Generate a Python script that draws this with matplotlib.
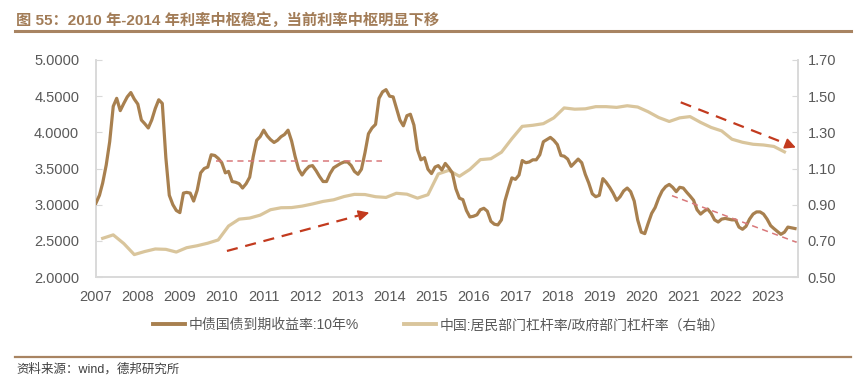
import numpy as np
import pandas as pd
import matplotlib
matplotlib.use("Agg")
import matplotlib.pyplot as plt
import matplotlib.dates as mdates
from matplotlib.lines import Line2D

plt.rcParams['font.family'] = ['Liberation Sans', 'Noto Sans CJK SC', 'DejaVu Sans']

# 中债国债到期收益率:10年 (月度, 2007-01 ~ 2023-09)
yield_10y = [
    3.02, 3.13, 3.30, 3.55, 3.87, 4.36, 4.47, 4.30, 4.40, 4.49, 4.55, 4.46,
    4.39, 4.17, 4.12, 4.06, 4.17, 4.33, 4.45, 4.40, 3.65, 3.13, 3.00, 2.92,
    2.89, 3.16, 3.17, 3.16, 3.05, 3.20, 3.44, 3.50, 3.52, 3.69, 3.68, 3.64,
    3.58, 3.44, 3.46, 3.32, 3.31, 3.29, 3.23, 3.29, 3.38, 3.66, 3.89, 3.94,
    4.03, 3.95, 3.90, 3.86, 3.89, 3.94, 3.97, 4.03, 3.88, 3.67, 3.49, 3.41,
    3.48, 3.53, 3.54, 3.47, 3.39, 3.32, 3.32, 3.43, 3.51, 3.54, 3.57, 3.59,
    3.59, 3.54, 3.46, 3.42, 3.49, 3.72, 3.98, 4.06, 4.11, 4.47, 4.56, 4.59,
    4.50, 4.49, 4.34, 4.17, 4.09, 4.23, 4.25, 4.10, 3.76, 3.62, 3.65, 3.49,
    3.43, 3.52, 3.54, 3.48, 3.57, 3.51, 3.44, 3.22, 3.09, 3.07, 2.92, 2.83,
    2.84, 2.86, 2.93, 2.95, 2.91, 2.77, 2.73, 2.72, 2.79, 3.05, 3.22, 3.37,
    3.35, 3.41, 3.61, 3.58, 3.59, 3.62, 3.62, 3.69, 3.87, 3.90, 3.93, 3.89,
    3.83, 3.68, 3.67, 3.63, 3.53, 3.58, 3.63, 3.58, 3.42, 3.30, 3.15, 3.11,
    3.13, 3.36, 3.31, 3.24, 3.16, 3.06, 3.11, 3.19, 3.23, 3.18, 3.05, 2.79,
    2.62, 2.60, 2.74, 2.88, 2.96, 3.09, 3.19, 3.25, 3.28, 3.24, 3.18, 3.24,
    3.23, 3.17, 3.12, 3.06, 2.93, 2.87, 2.91, 2.94, 2.88, 2.79, 2.76, 2.80,
    2.81, 2.80, 2.79, 2.79, 2.69, 2.66, 2.70, 2.80, 2.87, 2.90, 2.90, 2.87,
    2.80, 2.71, 2.67, 2.63, 2.59, 2.62, 2.69, 2.68, 2.67,
]

# 居民部门杠杆率/政府部门杠杆率 (季度, 2007Q1 ~ 2023Q2)
leverage = [
    0.714, 0.733, 0.685, 0.624, 0.641, 0.655, 0.653, 0.638, 0.662, 0.673, 0.687, 0.705,
    0.782, 0.820, 0.826, 0.842, 0.872, 0.883, 0.884, 0.892, 0.904, 0.918, 0.927, 0.945,
    0.957, 0.956, 0.944, 0.940, 0.963, 0.958, 0.936, 0.955, 1.070, 1.090, 1.057, 1.095,
    1.149, 1.154, 1.190, 1.265, 1.333, 1.339, 1.348, 1.380, 1.435, 1.428, 1.430, 1.442,
    1.442, 1.438, 1.447, 1.440, 1.414, 1.382, 1.360, 1.380, 1.387, 1.355, 1.327, 1.308,
    1.262, 1.245, 1.234, 1.230, 1.222, 1.192,
]

years = list(range(2007, 2024))
left_ticks = [2.0, 2.5, 3.0, 3.5, 4.0, 4.5, 5.0]
right_ticks = [0.5, 0.7, 0.9, 1.1, 1.3, 1.5, 1.7]

dates_m = pd.date_range('2007-01-01', periods=len(yield_10y), freq='MS')
dates_q = pd.date_range('2007-03-01', periods=len(leverage), freq='3MS')

c_yield = '#A8804F'
c_lev = '#D9C59C'
c_red = '#C23A1E'
c_pink = '#D9787A'
c_axis = '#D9D9D9'
c_text = '#595959'
c_brown = '#A88462'

fig = plt.figure(figsize=(8.64, 3.79), dpi=100)
ax = fig.add_axes([0.111, 0.2691, 0.8126, 0.5726])
ax2 = ax.twinx()

ax.plot(dates_m, yield_10y, color=c_yield, lw=2.3, solid_joinstyle='round', zorder=3)
ax2.plot(dates_q, leverage, color=c_lev, lw=2.3, solid_joinstyle='round', zorder=2)

ax.set_zorder(ax2.get_zorder() + 1)
ax.patch.set_visible(False)

ax.set_ylim(2.0, 5.0)
ax2.set_ylim(0.5, 1.7)
ax.set_xlim(pd.Timestamp('2007-01-01'), pd.Timestamp('2023-09-27'))
ax.set_yticks(left_ticks)
ax.set_yticklabels([f'{v:.4f}' for v in left_ticks])
ax2.set_yticks(right_ticks)
ax2.set_yticklabels([f'{v:.2f}' for v in right_ticks])
ax.set_xticks([pd.Timestamp(f'{y}-01-01') for y in years])
ax.set_xticklabels([str(y) for y in years])

for a in (ax, ax2):
    for s in a.spines.values():
        s.set_color(c_axis)
        s.set_linewidth(1.2)
    a.spines['top'].set_visible(False)
ax.tick_params(axis='y', direction='in', length=4, color=c_axis, labelsize=10.5,
               labelcolor=c_text, pad=12)
ax2.tick_params(axis='y', direction='in', length=4, color=c_axis, labelsize=10.5,
                labelcolor=c_text, pad=7)
ax.tick_params(axis='x', length=0, labelsize=10.5, labelcolor=c_text, pad=9)

# 注释：虚线与箭头
ax.plot([pd.Timestamp('2009-11-10'), pd.Timestamp('2013-10-25')], [3.60, 3.60],
        color=c_pink, lw=1.1, ls=(0, (4, 3)), zorder=4)
ax.plot([pd.Timestamp('2020-09-25'), pd.Timestamp('2023-09-15')], [3.124, 2.48],
        color=c_pink, lw=1.1, ls=(0, (4, 3)), zorder=4)

arrows = [
    (('2010-02-15', 2.36), ('2013-07-08', 2.89)),
    (('2020-12-10', 4.415), ('2023-09-08', 3.79)),
]
for (d0, v0), (d1, v1) in arrows:
    t0, t1 = pd.Timestamp(d0), pd.Timestamp(d1)
    x0, x1 = mdates.date2num(t0), mdates.date2num(t1)
    xm = x1 - (x1 - x0) * 0.08
    vm = v1 - (v1 - v0) * 0.08
    ax.plot([x0, xm], [v0, vm], color=c_red, lw=1.6, ls=(0, (5, 3.5)), zorder=4)
    ax.annotate('', xy=(x1, v1), xytext=(xm, vm),
                arrowprops=dict(arrowstyle='-|>', color=c_red, lw=1.2,
                                mutation_scale=16, shrinkA=0, shrinkB=0), zorder=4)

# 图例
fig.legend(handles=[Line2D([], [], color=c_yield, lw=2.8),
                    Line2D([], [], color=c_lev, lw=2.8)],
           labels=['中债国债到期收益率:10年%', '中国:居民部门杠杆率/政府部门杠杆率（右轴）'],
           loc='center', bbox_to_anchor=(0.508, 0.142), ncol=2, frameon=False,
           fontsize=10, labelcolor=c_text, handlelength=2.3, handletextpad=0.3,
           columnspacing=3.2)

# 标题、分隔线、来源
fig.text(0.019, 0.947, '图 55：2010 年-2014 年利率中枢稳定，当前利率中枢明显下移',
         fontsize=11, fontweight='bold', color='#A27C57', va='center')
fig.add_artist(Line2D([0.017, 0.985], [0.917, 0.917], color=c_brown, lw=2.2))
fig.add_artist(Line2D([0.017, 0.985], [0.059, 0.059], color=c_brown, lw=1.6))
fig.text(0.019, 0.024, '资料来源：wind，德邦研究所', fontsize=9, color='#404040', va='center')

fig.savefig('out.png', dpi=100)
